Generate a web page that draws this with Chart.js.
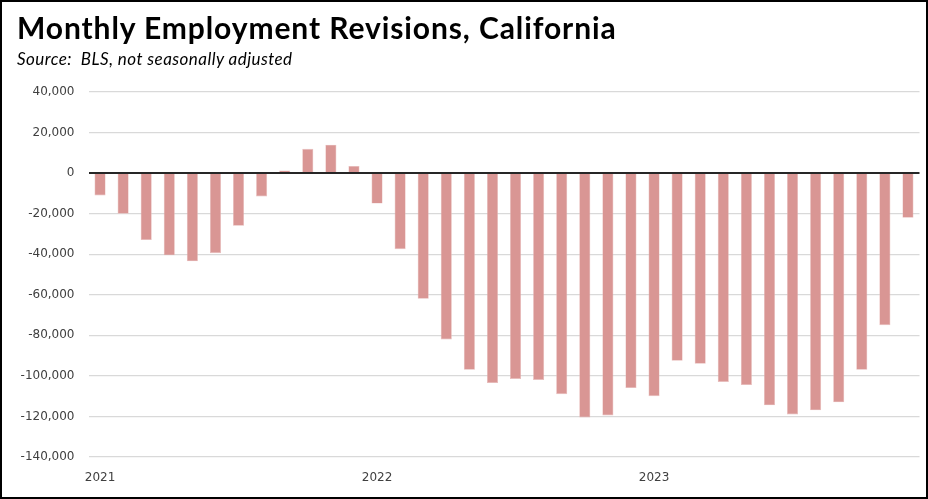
<!DOCTYPE html>
<html>
<head>
<meta charset="utf-8">
<script src="https://cdn.jsdelivr.net/npm/chart.js@4"></script>
<style>
  html, body { margin: 0; padding: 0; background: #fff; }
  #wrap { position: relative; width: 928px; height: 499px; overflow: hidden; }
  #c { position: absolute; left: 0; top: 0; }
  #frame { position: absolute; left: 0; top: 0; width: 928px; height: 499px; box-sizing: border-box; border: 2px solid #000; pointer-events: none; }
  #title { position: absolute; left: 17px; top: 8.5px; font-family: Lato, "Open Sans", sans-serif; font-weight: bold; font-size: 30px; letter-spacing: 0.9px; color: #000; white-space: nowrap; line-height: 36px; }
  #subtitle { position: absolute; left: 17px; top: 48.5px; font-family: Lato, "Open Sans", sans-serif; font-style: italic; font-size: 17px; letter-spacing: 0.45px; color: #000; white-space: nowrap; line-height: 20px; }
</style>
</head>
<body>
<div id="wrap">
  <canvas id="c" width="928" height="499"></canvas>
  <div id="title">Monthly Employment Revisions, California</div>
  <div id="subtitle">Source:&nbsp; BLS, not seasonally adjusted</div>
  <div id="frame"></div>
</div>
<script>
const categories = [
  "2021-01","2021-02","2021-03","2021-04","2021-05","2021-06","2021-07","2021-08","2021-09","2021-10","2021-11","2021-12",
  "2022-01","2022-02","2022-03","2022-04","2022-05","2022-06","2022-07","2022-08","2022-09","2022-10","2022-11","2022-12",
  "2023-01","2023-02","2023-03","2023-04","2023-05","2023-06","2023-07","2023-08","2023-09","2023-10","2023-11","2023-12"
];
const revisions = [
  -11000, -20000, -33000, -40500, -43500, -39500, -26000, -11500, 1300, 12000, 14000, 3500,
  -15000, -37500, -62000, -82000, -97000, -103500, -101500, -102000, -109000, -120500, -119500, -106000,
  -110000, -92500, -94000, -103000, -104500, -114500, -119000, -117000, -113000, -97000, -75000, -22000
];
const yearTickLabels = ["2021", "2022", "2023"];
const yMin = -140000, yMax = 40000, yStep = 20000;

const ctx = document.getElementById('c').getContext('2d');
new Chart(ctx, {
  type: 'bar',
  data: {
    labels: categories,
    datasets: [{
      data: revisions,
      backgroundColor: '#d99694',
      borderColor: '#e8bcbb',
      borderWidth: 0.6,
      barPercentage: 0.48,
      categoryPercentage: 1.0
    }]
  },
  options: {
    responsive: false,
    animation: false,
    devicePixelRatio: 1,
    layout: { padding: { top: 92, right: 8.5, bottom: 0, left: 0 } },
    plugins: { legend: { display: false }, tooltip: { enabled: false }, title: { display: false } },
    scales: {
      x: {
        grid: { display: false, drawTicks: false },
        border: { display: false },
        ticks: {
          autoSkip: false, maxRotation: 0, minRotation: 0, padding: 14,
          color: '#404040',
          font: { family: 'DejaVu Sans', size: 12 },
          callback: function(v, i) { return i % 12 === 0 ? yearTickLabels[i / 12] : ''; }
        },
        afterFit: function(s) { s.height = 42; }
      },
      y: {
        min: yMin, max: yMax,
        grid: {
          drawTicks: false,
          color: function(c) { return c.tick && c.tick.value === 0 ? '#262626' : '#d9d9d9'; },
          lineWidth: function(c) { return c.tick && c.tick.value === 0 ? 2 : 1.2; }
        },
        border: { display: false },
        ticks: {
          stepSize: yStep, padding: 14,
          color: '#404040',
          font: { family: 'DejaVu Sans', size: 12 },
          callback: function(v) { return v.toLocaleString('en-US'); }
        },
        afterFit: function(s) { s.width = 88.5; }
      }
    }
  }
});
</script>
</body>
</html>
